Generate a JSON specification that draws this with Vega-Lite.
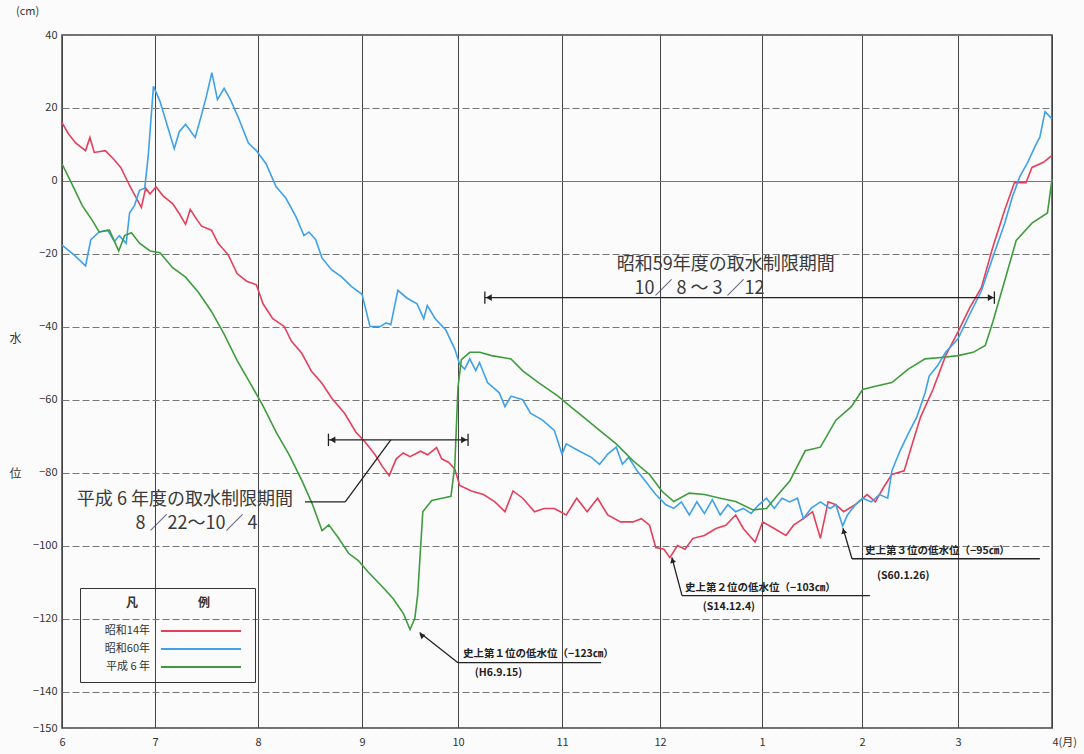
{
"$schema":"https://vega.github.io/schema/vega-lite/v6.json",
"width":990,"height":693,"autosize":"none",
"padding":{"left":62,"top":35,"right":32,"bottom":26},
"background":"#fbfbfb",
"config":{"font":"Noto Sans CJK JP","view":{"stroke":"#444","strokeWidth":1.5}},
"title":{"text":"(cm)","anchor":"start","frame":"group","dx":-46,"offset":12,"fontSize":11,"fontWeight":"normal","color":"#333","font":"Noto Sans CJK JP"},
"datasets":{
"series":[
{"s":"昭和14年","d":0,"v":16},{"s":"昭和14年","d":2,"v":13},{"s":"昭和14年","d":4.4,"v":10.4},{"s":"昭和14年","d":7.6,"v":8.3},{"s":"昭和14年","d":9,"v":11.9},{"s":"昭和14年","d":10.4,"v":7.8},{"s":"昭和14年","d":14,"v":8.3},{"s":"昭和14年","d":16.4,"v":6.2},{"s":"昭和14年","d":19,"v":3.6},{"s":"昭和14年","d":22,"v":-1.6},{"s":"昭和14年","d":24,"v":-4.7},{"s":"昭和14年","d":25.6,"v":-7.3},{"s":"昭和14年","d":27,"v":-2},{"s":"昭和14年","d":28.4,"v":-3.6},{"s":"昭和14年","d":30.3,"v":-1.6},{"s":"昭和14年","d":32.4,"v":-4.1},{"s":"昭和14年","d":35.3,"v":-6.2},{"s":"昭和14年","d":37.2,"v":-8.8},{"s":"昭和14年","d":39.2,"v":-11.9},{"s":"昭和14年","d":40.6,"v":-7.8},{"s":"昭和14年","d":42,"v":-9.8},{"s":"昭和14年","d":44,"v":-12.4},{"s":"昭和14年","d":47,"v":-13.5},{"s":"昭和14年","d":49,"v":-17.1},{"s":"昭和14年","d":52,"v":-20.2},{"s":"昭和14年","d":54.7,"v":-25.4},{"s":"昭和14年","d":57.6,"v":-27.5},{"s":"昭和14年","d":60.5,"v":-28.5},{"s":"昭和14年","d":62.5,"v":-33.7},{"s":"昭和14年","d":65.4,"v":-37.8},{"s":"昭和14年","d":68.8,"v":-39.9},{"s":"昭和14年","d":71,"v":-44},{"s":"昭和14年","d":74,"v":-47.2},{"s":"昭和14年","d":77,"v":-52.3},{"s":"昭和14年","d":80,"v":-55.4},{"s":"昭和14年","d":83,"v":-59.6},{"s":"昭和14年","d":86.8,"v":-63.7},{"s":"昭和14年","d":90.2,"v":-68.9},{"s":"昭和14年","d":92.9,"v":-71.5},{"s":"昭和14年","d":96.1,"v":-75.1},{"s":"昭和14年","d":98.3,"v":-78.2},{"s":"昭和14年","d":100.5,"v":-80.8},{"s":"昭和14年","d":102.7,"v":-76.2},{"s":"昭和14年","d":104.9,"v":-74.6},{"s":"昭和14年","d":107,"v":-75.6},{"s":"昭和14年","d":110.3,"v":-74.1},{"s":"昭和14年","d":112.5,"v":-75.1},{"s":"昭和14年","d":115.3,"v":-73.1},{"s":"昭和14年","d":116.9,"v":-76.2},{"s":"昭和14年","d":119.1,"v":-77.2},{"s":"昭和14年","d":121,"v":-79},{"s":"昭和14年","d":122.5,"v":-83.5},{"s":"昭和14年","d":126,"v":-85},{"s":"昭和14年","d":129.6,"v":-86},{"s":"昭和14年","d":133,"v":-88},{"s":"昭和14年","d":136,"v":-90.7},{"s":"昭和14年","d":138.4,"v":-85},{"s":"昭和14年","d":141.3,"v":-87},{"s":"昭和14年","d":144.8,"v":-90.7},{"s":"昭和14年","d":147.7,"v":-89.8},{"s":"昭和14年","d":150.7,"v":-89.8},{"s":"昭和14年","d":154.3,"v":-91.6},{"s":"昭和14年","d":157.5,"v":-87},{"s":"昭和14年","d":160.7,"v":-90.7},{"s":"昭和14年","d":163.9,"v":-87},{"s":"昭和14年","d":167,"v":-91.6},{"s":"昭和14年","d":170.9,"v":-93.5},{"s":"昭和14年","d":174.7,"v":-93.5},{"s":"昭和14年","d":177.3,"v":-92.6},{"s":"昭和14年","d":179.8,"v":-94.4},{"s":"昭和14年","d":181.7,"v":-100.5},{"s":"昭和14年","d":184.2,"v":-101},{"s":"昭和14年","d":186,"v":-103.3},{"s":"昭和14年","d":188.3,"v":-100},{"s":"昭和14年","d":190.6,"v":-101},{"s":"昭和14年","d":193,"v":-98},{"s":"昭和14年","d":196.5,"v":-97.2},{"s":"昭和14年","d":200,"v":-95.3},{"s":"昭和14年","d":203,"v":-94.4},{"s":"昭和14年","d":206,"v":-91.6},{"s":"昭和14年","d":208.3,"v":-95.3},{"s":"昭和14年","d":211.9,"v":-99},{"s":"昭和14年","d":214.2,"v":-93.5},{"s":"昭和14年","d":217.8,"v":-95.3},{"s":"昭和14年","d":221.4,"v":-97.2},{"s":"昭和14年","d":223.8,"v":-94.4},{"s":"昭和14年","d":226.8,"v":-92.6},{"s":"昭和14年","d":229.7,"v":-90.7},{"s":"昭和14年","d":232.1,"v":-98},{"s":"昭和14年","d":234.5,"v":-88},{"s":"昭和14年","d":236.9,"v":-88.8},{"s":"昭和14年","d":239.3,"v":-90.7},{"s":"昭和14年","d":242.9,"v":-88.8},{"s":"昭和14年","d":246.5,"v":-86},{"s":"昭和14年","d":248.9,"v":-88},{"s":"昭和14年","d":251.3,"v":-84},{"s":"昭和14年","d":253.7,"v":-80.5},{"s":"昭和14年","d":257.3,"v":-79.5},{"s":"昭和14年","d":259.7,"v":-72},{"s":"昭和14年","d":262.1,"v":-64.7},{"s":"昭和14年","d":265.7,"v":-57.2},{"s":"昭和14年","d":269.4,"v":-47.9},{"s":"昭和14年","d":273,"v":-41.4},{"s":"昭和14年","d":276.8,"v":-34.9},{"s":"昭和14年","d":280.7,"v":-29.3},{"s":"昭和14年","d":284.5,"v":-18.1},{"s":"昭和14年","d":288.4,"v":-8},{"s":"昭和14年","d":291.6,"v":-0.5},{"s":"昭和14年","d":295.4,"v":-0.5},{"s":"昭和14年","d":297.4,"v":3.7},{"s":"昭和14年","d":301.2,"v":5.1},{"s":"昭和14年","d":304,"v":7},
{"s":"昭和60年","d":0,"v":-17.6},{"s":"昭和60年","d":3.8,"v":-20.2},{"s":"昭和60年","d":7.6,"v":-23.3},{"s":"昭和60年","d":9.3,"v":-16.1},{"s":"昭和60年","d":12,"v":-14},{"s":"昭和60年","d":14.7,"v":-13.5},{"s":"昭和60年","d":16.9,"v":-16.6},{"s":"昭和60年","d":18.5,"v":-15},{"s":"昭和60年","d":20.7,"v":-17.1},{"s":"昭和60年","d":21.8,"v":-8.8},{"s":"昭和60年","d":23.4,"v":-6.7},{"s":"昭和60年","d":25,"v":-2.6},{"s":"昭和60年","d":26.7,"v":-2},{"s":"昭和60年","d":27.8,"v":6.7},{"s":"昭和60年","d":29.5,"v":25.9},{"s":"昭和60年","d":31.5,"v":21.8},{"s":"昭和60年","d":33.4,"v":16.1},{"s":"昭和60年","d":35.8,"v":8.8},{"s":"昭和60年","d":37.3,"v":13.5},{"s":"昭和60年","d":39.2,"v":15.5},{"s":"昭和60年","d":42.1,"v":11.9},{"s":"昭和60年","d":44,"v":18.1},{"s":"昭和60年","d":45.5,"v":23.3},{"s":"昭和60年","d":47.1,"v":29.7},{"s":"昭和60年","d":48.8,"v":22.3},{"s":"昭和60年","d":50.8,"v":25.4},{"s":"昭和60年","d":52.7,"v":22.3},{"s":"昭和60年","d":55.2,"v":17.1},{"s":"昭和60年","d":58.1,"v":10.4},{"s":"昭和60年","d":60.5,"v":8.3},{"s":"昭和60年","d":63.4,"v":4.7},{"s":"昭和60年","d":66.4,"v":-1.6},{"s":"昭和60年","d":69.3,"v":-4.7},{"s":"昭和60年","d":72.3,"v":-9.8},{"s":"昭和60年","d":74.7,"v":-15},{"s":"昭和60年","d":76.2,"v":-14},{"s":"昭和60年","d":78.2,"v":-16.1},{"s":"昭和60年","d":80.1,"v":-21.2},{"s":"昭和60年","d":83,"v":-24.4},{"s":"昭和60年","d":86,"v":-26.4},{"s":"昭和60年","d":88.9,"v":-29},{"s":"昭和60年","d":92,"v":-31.1},{"s":"昭和60年","d":94.5,"v":-39.9},{"s":"昭和60年","d":97.8,"v":-39.9},{"s":"昭和60年","d":99.5,"v":-38.9},{"s":"昭和60年","d":101,"v":-39.4},{"s":"昭和60年","d":103.2,"v":-30},{"s":"昭和60年","d":106,"v":-32.1},{"s":"昭和60年","d":109.2,"v":-33.7},{"s":"昭和60年","d":111.3,"v":-37.8},{"s":"昭和60年","d":112.4,"v":-34.2},{"s":"昭和60年","d":114.9,"v":-37.8},{"s":"昭和60年","d":118.2,"v":-40.9},{"s":"昭和60年","d":121,"v":-46.1},{"s":"昭和60年","d":122.5,"v":-50.3},{"s":"昭和60年","d":124,"v":-51.6},{"s":"昭和60年","d":125.5,"v":-48.8},{"s":"昭和60年","d":127.3,"v":-52},{"s":"昭和60年","d":128.4,"v":-49.8},{"s":"昭和60年","d":130.8,"v":-55.3},{"s":"昭和60年","d":134.3,"v":-58.1},{"s":"昭和60年","d":136,"v":-61.9},{"s":"昭和60年","d":137.8,"v":-59},{"s":"昭和60年","d":141.3,"v":-60},{"s":"昭和60年","d":143.6,"v":-63.7},{"s":"昭和60年","d":147.2,"v":-65.6},{"s":"昭和60年","d":150.7,"v":-68.4},{"s":"昭和60年","d":153,"v":-74.9},{"s":"昭和60年","d":154.3,"v":-72.1},{"s":"昭和60年","d":158.1,"v":-74},{"s":"昭和60年","d":162,"v":-75.8},{"s":"昭和60年","d":164.5,"v":-77.7},{"s":"昭和60年","d":167,"v":-74.9},{"s":"昭和60年","d":169.6,"v":-73},{"s":"昭和60年","d":171.5,"v":-77.7},{"s":"昭和60年","d":173.4,"v":-75.8},{"s":"昭和60年","d":176,"v":-79.5},{"s":"昭和60年","d":178.5,"v":-82.3},{"s":"昭和60年","d":181.7,"v":-86},{"s":"昭和60年","d":184.8,"v":-88.8},{"s":"昭和60年","d":187.2,"v":-89.8},{"s":"昭和60年","d":189.5,"v":-88},{"s":"昭和60年","d":191.9,"v":-91.6},{"s":"昭和60年","d":194.2,"v":-88},{"s":"昭和60年","d":196.5,"v":-91.2},{"s":"昭和60年","d":198.9,"v":-87.4},{"s":"昭和60年","d":201.3,"v":-91.6},{"s":"昭和60年","d":203.6,"v":-88.8},{"s":"昭和60年","d":206,"v":-90.7},{"s":"昭和60年","d":208.3,"v":-89.8},{"s":"昭和60年","d":210.7,"v":-91.2},{"s":"昭和60年","d":213,"v":-88.8},{"s":"昭和60年","d":215.4,"v":-87},{"s":"昭和60年","d":217.8,"v":-89.8},{"s":"昭和60年","d":220.2,"v":-87},{"s":"昭和60年","d":222.6,"v":-88},{"s":"昭和60年","d":225,"v":-87},{"s":"昭和60年","d":226.8,"v":-92.6},{"s":"昭和60年","d":229.2,"v":-89.8},{"s":"昭和60年","d":232.1,"v":-88},{"s":"昭和60年","d":235.1,"v":-89.8},{"s":"昭和60年","d":236.9,"v":-88.8},{"s":"昭和60年","d":239,"v":-94.6},{"s":"昭和60年","d":240.5,"v":-91.6},{"s":"昭和60年","d":242.9,"v":-88.8},{"s":"昭和60年","d":245.2,"v":-87},{"s":"昭和60年","d":247.7,"v":-88},{"s":"昭和60年","d":250.1,"v":-86},{"s":"昭和60年","d":252.5,"v":-87},{"s":"昭和60年","d":253.7,"v":-79.5},{"s":"昭和60年","d":256.1,"v":-74},{"s":"昭和60年","d":258.5,"v":-69.3},{"s":"昭和60年","d":261,"v":-64.7},{"s":"昭和60年","d":263.4,"v":-58.1},{"s":"昭和60年","d":264.6,"v":-53.5},{"s":"昭和60年","d":267,"v":-50.7},{"s":"昭和60年","d":269.4,"v":-47},{"s":"昭和60年","d":273,"v":-43.3},{"s":"昭和60年","d":276.8,"v":-36.7},{"s":"昭和60年","d":280.7,"v":-30.2},{"s":"昭和60年","d":284.5,"v":-20.9},{"s":"昭和60年","d":288.4,"v":-11.6},{"s":"昭和60年","d":291,"v":-4.2},{"s":"昭和60年","d":293.5,"v":1.4},{"s":"昭和60年","d":296,"v":5.1},{"s":"昭和60年","d":298.6,"v":9.8},{"s":"昭和60年","d":300,"v":12},{"s":"昭和60年","d":301.7,"v":19},{"s":"昭和60年","d":304,"v":17},
{"s":"平成 6 年","d":0,"v":4.7},{"s":"平成 6 年","d":3.3,"v":-1},{"s":"平成 6 年","d":6.5,"v":-6.7},{"s":"平成 6 年","d":9.8,"v":-10.9},{"s":"平成 6 年","d":12,"v":-14},{"s":"平成 6 年","d":15.3,"v":-13.5},{"s":"平成 6 年","d":18.3,"v":-19.2},{"s":"平成 6 年","d":20.2,"v":-15},{"s":"平成 6 年","d":22.4,"v":-14.2},{"s":"平成 6 年","d":25,"v":-17.1},{"s":"平成 6 年","d":28.4,"v":-19.2},{"s":"平成 6 年","d":31.5,"v":-19.7},{"s":"平成 6 年","d":35.3,"v":-23.8},{"s":"平成 6 年","d":39.2,"v":-26.4},{"s":"平成 6 年","d":43.1,"v":-30.6},{"s":"平成 6 年","d":47,"v":-35.8},{"s":"平成 6 年","d":50.8,"v":-42},{"s":"平成 6 年","d":54.7,"v":-49.2},{"s":"平成 6 年","d":58.6,"v":-55.4},{"s":"平成 6 年","d":62.5,"v":-61.7},{"s":"平成 6 年","d":66.4,"v":-68.9},{"s":"平成 6 年","d":70.3,"v":-75.1},{"s":"平成 6 年","d":74.2,"v":-82.4},{"s":"平成 6 年","d":77.2,"v":-88.6},{"s":"平成 6 年","d":80.1,"v":-95.9},{"s":"平成 6 年","d":82.1,"v":-94.3},{"s":"平成 6 年","d":85,"v":-97.9},{"s":"平成 6 年","d":88,"v":-102.1},{"s":"平成 6 年","d":90.9,"v":-104.1},{"s":"平成 6 年","d":94,"v":-107.3},{"s":"平成 6 年","d":98.5,"v":-111.4},{"s":"平成 6 年","d":101.7,"v":-114.5},{"s":"平成 6 年","d":105,"v":-118.7},{"s":"平成 6 年","d":107,"v":-123},{"s":"平成 6 年","d":108.5,"v":-120},{"s":"平成 6 年","d":109.4,"v":-113.5},{"s":"平成 6 年","d":111,"v":-90.7},{"s":"平成 6 年","d":113.8,"v":-87.6},{"s":"平成 6 年","d":117,"v":-87},{"s":"平成 6 年","d":119.8,"v":-86.5},{"s":"平成 6 年","d":121,"v":-78},{"s":"平成 6 年","d":122,"v":-56.5},{"s":"平成 6 年","d":123,"v":-49},{"s":"平成 6 年","d":125.5,"v":-47},{"s":"平成 6 年","d":128.5,"v":-47},{"s":"平成 6 年","d":132,"v":-47.9},{"s":"平成 6 年","d":137.8,"v":-48.8},{"s":"平成 6 年","d":141.3,"v":-52.1},{"s":"平成 6 年","d":146,"v":-55.3},{"s":"平成 6 年","d":151.8,"v":-59},{"s":"平成 6 年","d":155.6,"v":-61.9},{"s":"平成 6 年","d":159.5,"v":-64.7},{"s":"平成 6 年","d":164.5,"v":-68.4},{"s":"平成 6 年","d":169.6,"v":-72.1},{"s":"平成 6 年","d":174.7,"v":-76.7},{"s":"平成 6 年","d":179.8,"v":-80.5},{"s":"平成 6 年","d":183.6,"v":-85.1},{"s":"平成 6 年","d":187.2,"v":-87.9},{"s":"平成 6 年","d":191.9,"v":-85.6},{"s":"平成 6 年","d":196.5,"v":-86},{"s":"平成 6 年","d":201.3,"v":-87},{"s":"平成 6 年","d":206,"v":-87.9},{"s":"平成 6 年","d":211.3,"v":-90.2},{"s":"平成 6 年","d":215.4,"v":-89.8},{"s":"平成 6 年","d":219,"v":-86},{"s":"平成 6 年","d":222.6,"v":-82.3},{"s":"平成 6 年","d":227.4,"v":-74},{"s":"平成 6 年","d":232.1,"v":-73},{"s":"平成 6 年","d":236.9,"v":-65.6},{"s":"平成 6 年","d":241.7,"v":-61.9},{"s":"平成 6 年","d":245.2,"v":-57.2},{"s":"平成 6 年","d":248.9,"v":-56.3},{"s":"平成 6 年","d":253.7,"v":-55.3},{"s":"平成 6 年","d":258.5,"v":-51.6},{"s":"平成 6 年","d":263.4,"v":-48.8},{"s":"平成 6 年","d":268.2,"v":-48.4},{"s":"平成 6 年","d":273,"v":-47.9},{"s":"平成 6 年","d":278,"v":-47},{"s":"平成 6 年","d":282,"v":-45.1},{"s":"平成 6 年","d":284.5,"v":-38.6},{"s":"平成 6 年","d":288.4,"v":-27.4},{"s":"平成 6 年","d":292.2,"v":-16.3},{"s":"平成 6 年","d":297.4,"v":-11.6},{"s":"平成 6 年","d":302.5,"v":-8.8},{"s":"平成 6 年","d":304,"v":0.5}
],
"segments":[
{"d":130,"v":-32,"d2":285,"v2":-32},{"d":130,"v":-30.3,"d2":130,"v2":-33.7},{"d":285,"v":-30.3,"d2":285,"v2":-33.7},
{"d":82,"v":-71,"d2":125,"v2":-71},{"d":82,"v":-69.3,"d2":82,"v2":-72.7},{"d":125,"v":-69.3,"d2":125,"v2":-72.7},
{"d":75,"v":-88,"d2":87,"v2":-88},{"d":87,"v":-88,"d2":101,"v2":-71},
{"d":122,"v":-132.1,"d2":165,"v2":-132.1},{"d":122,"v":-132.1,"d2":110,"v2":-123.8},
{"d":189.7,"v":-113.7,"d2":247.3,"v2":-113.7},{"d":189.7,"v":-113.7,"d2":186.6,"v2":-103.2},
{"d":241.9,"v":-103.6,"d2":300,"v2":-103.6},{"d":241.9,"v":-103.6,"d2":239.1,"v2":-95.2}
],
"bigLabels":[
{"d":203,"v":-23,"t":"昭和59年度の取水制限期間"},{"d":195,"v":-29.6,"t":"10／ 8 ～ 3 ／12"},
{"d":39,"v":-87.5,"t":"平成 6 年度の取水制限期間"},{"d":42.5,"v":-94.2,"t":"8 ／22～10／ 4"}
],
"smallLabels":[
{"d":123.5,"v":-129.6,"t":"史上第１位の低水位（−123㎝）"},{"d":127,"v":-134.8,"t":"(H6.9.15)"},
{"d":190.6,"v":-111.6,"t":"史上第２位の低水位（−103㎝）"},{"d":196,"v":-116.8,"t":"(S14.12.4)"},
{"d":245.9,"v":-101.4,"t":"史上第３位の低水位（−95㎝）"},{"d":249.4,"v":-108.2,"t":"(S60.1.26)"}
]
},
"encoding":{
"x":{"field":"d","type":"quantitative","scale":{"domain":[0,30,61,92,122,153,183,214,245,273,304],"range":[0,93,196,300,396,500,598,700,800,896,990],"nice":false,"zero":false},
"axis":{"values":[0,30,61,92,122,153,183,214,245,273,304],"labelExpr":"['6','7','8','9','10','11','12','1','2','3','4(月)'][indexof([0,30,61,92,122,153,183,214,245,273,304], datum.value)]","grid":true,"gridColor":"#444","gridWidth":1,"ticks":false,"domain":false,"labelPadding":8,"labelFontSize":11,"labelColor":"#333","labelFlush":false,"labelOverlap":false,"labelBound":false,"labelAlign":{"condition":{"test":"datum.value==304","value":"left"},"value":"center"},"labelFont":"Noto Sans CJK JP","title":null}},
"y":{"field":"v","type":"quantitative","scale":{"domain":[-150,40],"nice":false,"zero":false},
"axis":{"values":[-150,-140,-120,-100,-80,-60,-40,-20,0,20,40],"format":"d","grid":true,"gridColor":"#777","gridWidth":1,"gridDash":{"condition":{"test":"datum.value==0","value":[]},"value":[7,3]},"ticks":false,"domain":false,"labelPadding":5,"labelFontSize":11,"labelColor":"#333","labelFont":"Noto Sans CJK JP","title":["水","位"],"titleAngle":0,"titleLineHeight":135,"titleX":-47,"titleY":298,"titleBaseline":"top","titleAlign":"center","titleFontSize":12,"titleFontWeight":"normal","titleColor":"#333","titleFont":"Noto Sans CJK JP"}}
},
"layer":[
{"data":{"name":"series"},"mark":{"type":"line","strokeWidth":1.6,"interpolate":"linear"},
"encoding":{"color":{"field":"s","type":"nominal","scale":{"domain":["昭和14年","昭和60年","平成 6 年"],"range":["#e4405c","#3fa1ea","#3e9c3e"]},
"legend":{"orient":"none","legendX":18,"legendY":553,"title":"凡　　　　　例","titleAnchor":"middle","titleFontSize":12,"titleFontWeight":"bold","titleColor":"#333","titlePadding":10,"strokeColor":"#333","padding":10,"symbolType":"M-4,0H4","symbolSize":400,"symbolStrokeWidth":2,"symbolOffset":100,"labelAlign":"right","labelOffset":-62,"labelFontSize":11,"labelColor":"#333","rowPadding":2,"labelFont":"Noto Sans CJK JP","titleFont":"Noto Sans CJK JP"}}}},
{"data":{"name":"segments"},"mark":{"type":"rule","color":"#222","strokeWidth":1.3},
"encoding":{"x2":{"field":"d2"},"y2":{"field":"v2"}}},
{"data":{"values":[{"d":131.2,"v":-32},{"d":83.2,"v":-71}]},"mark":{"type":"point","shape":"triangle-left","filled":true,"color":"#222","size":45,"opacity":1}},
{"data":{"values":[{"d":283.8,"v":-32},{"d":123.8,"v":-71}]},"mark":{"type":"point","shape":"triangle-right","filled":true,"color":"#222","size":45,"opacity":1}},
{"data":{"values":[{"d":110.6,"v":-124.6}]},"mark":{"type":"point","shape":"triangle-up","filled":true,"color":"#222","size":35,"opacity":1,"angle":310}},
{"data":{"values":[{"d":186.8,"v":-104}]},"mark":{"type":"point","shape":"triangle-up","filled":true,"color":"#222","size":35,"opacity":1,"angle":346}},
{"data":{"values":[{"d":239.3,"v":-96}]},"mark":{"type":"point","shape":"triangle-up","filled":true,"color":"#222","size":35,"opacity":1,"angle":347}},
{"data":{"name":"bigLabels"},"mark":{"type":"text","fontSize":18,"align":"center","baseline":"middle","color":"#3a3a3a","font":"Noto Sans CJK JP"},
"encoding":{"text":{"field":"t"}}},
{"data":{"name":"smallLabels"},"mark":{"type":"text","fontSize":10.5,"align":"left","baseline":"middle","color":"#222","font":"Noto Sans CJK JP","fontWeight":"bold"},
"encoding":{"text":{"field":"t"}}}
]
}
